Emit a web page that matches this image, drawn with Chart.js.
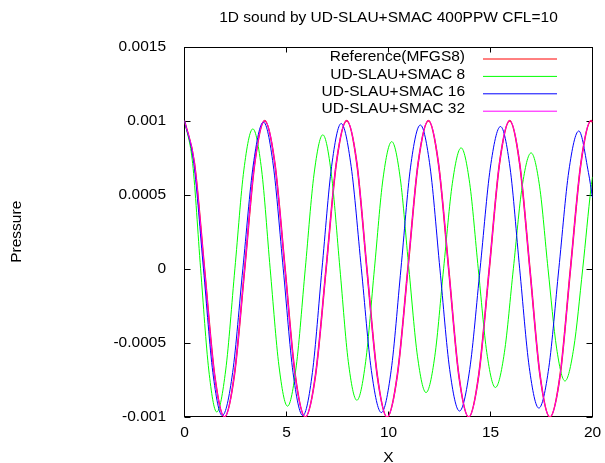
<!DOCTYPE html>
<html>
<head>
<meta charset="utf-8">
<title>1D sound by UD-SLAU+SMAC 400PPW CFL=10</title>
<script src="https://cdn.jsdelivr.net/npm/chart.js@4/dist/chart.umd.min.js"></script>
<style>
  body { margin: 0; background: #fff; }
  canvas { display: block; }
</style>
</head>
<body>
<canvas id="grafico" width="605" height="463"></canvas>
<script>
// Solución de referencia (MFGS8)
const refX = [0, 0.49, 0.98, 1.47, 1.96, 2.45, 2.95, 3.44, 3.93, 4.43, 4.93, 5.42, 5.92, 6.43, 6.94, 7.44, 7.95, 8.45, 8.94, 9.44, 9.93, 10.44, 10.95, 11.45, 11.96, 12.45, 12.95, 13.44, 13.93, 14.43, 14.94, 15.44, 15.94, 16.43, 16.93, 17.42, 17.91, 18.42, 18.92, 19.43, 19.93, 20];
const refY = [0.001, 0.00071, 0, -0.00071, -0.001, -0.00071, 0, 0.00071,
  0.001, 0.00071, 0, -0.00071, -0.001, -0.00071, 0, 0.00071,
  0.001, 0.00071, 0, -0.00071, -0.001, -0.00071, 0, 0.00071,
  0.001, 0.00071, 0, -0.00071, -0.001, -0.00071, 0, 0.00071,
  0.001, 0.00071, 0, -0.00071, -0.001, -0.00071, 0, 0.00071,
  0.001, 0.00099];

// UD-SLAU+SMAC con 8 puntos
const smac8X = [0, 0.40, 0.79, 1.19, 1.58, 2.02, 2.47, 2.91, 3.35, 3.78, 4.20, 4.63, 5.05, 5.48, 5.92, 6.35, 6.78, 7.20, 7.62, 8.03, 8.45, 8.88, 9.31, 9.73, 10.16, 10.58, 11.00, 11.42, 11.84, 12.27, 12.70, 13.13, 13.56, 13.98, 14.40, 14.82, 15.24, 15.68, 16.12, 16.55, 16.99, 17.41, 17.82, 18.24, 18.65, 19.08, 19.52, 19.93, 20];
const smac8Y = [0.001, 0.00071, 0, -0.000683, -0.000966, -0.000683, 0, 0.000667,
  0.000944, 0.000667, 0, -0.000655, -0.000927, -0.000655, 0, 0.000639,
  0.000904, 0.000639, 0, -0.000627, -0.000887, -0.000627, 0, 0.000607,
  0.000858, 0.000607, 0, -0.00059, -0.000835, -0.00059, 0, 0.000577,
  0.000816, 0.000577, 0, -0.000566, -0.000801, -0.000566, 0, 0.000553,
  0.000782, 0.000553, 0, -0.000535, -0.000757, -0.000535, 0, 0.00055,
  0.00062];

// UD-SLAU+SMAC con 16 puntos
const smac16X = [0, 0.46, 0.93, 1.39, 1.85, 2.36, 2.86, 3.37, 3.87, 4.35, 4.84, 5.32, 5.80, 6.27, 6.74, 7.21, 7.68, 8.17, 8.67, 9.16, 9.65, 10.13, 10.61, 11.08, 11.56, 12.04, 12.52, 13.00, 13.48, 13.98, 14.49, 14.99, 15.49, 15.96, 16.43, 16.90, 17.37, 17.86, 18.35, 18.84, 19.33, 19.80, 20];
const smac16Y = [0.001, 0.00071, 0, -0.0007, -0.00099, -0.0007, 0, 0.0007,
  0.00099, 0.0007, 0, -0.0007, -0.00099, -0.0007, 0, 0.00069,
  0.00098, 0.00069, 0, -0.000686, -0.00097, -0.000686, 0, 0.000686,
  0.00097, 0.000686, 0, -0.00068, -0.00096, -0.00068, 0, 0.00068,
  0.00096, 0.00068, 0, -0.000665, -0.00094, -0.000665, 0, 0.00066,
  0.00093, 0.00065, 0.00048];

// UD-SLAU+SMAC con 32 puntos (prácticamente igual a la referencia)
const smac32X = [0, 0.49, 0.98, 1.47, 1.96, 2.45, 2.95, 3.44, 3.93, 4.43, 4.93, 5.42, 5.92, 6.43, 6.94, 7.44, 7.95, 8.45, 8.94, 9.44, 9.93, 10.44, 10.95, 11.45, 11.96, 12.45, 12.95, 13.44, 13.93, 14.43, 14.94, 15.44, 15.94, 16.43, 16.93, 17.42, 17.91, 18.42, 18.92, 19.43, 19.93, 20];
const smac32Y = [0.001, 0.00071, 0, -0.00071, -0.001, -0.00071, 0, 0.00071,
  0.001, 0.00071, 0, -0.00071, -0.001, -0.00071, 0, 0.00071,
  0.001, 0.00071, 0, -0.00071, -0.001, -0.00071, 0, 0.00071,
  0.001, 0.00071, 0, -0.00071, -0.001, -0.00071, 0, 0.00071,
  0.001, 0.00071, 0, -0.00071, -0.001, -0.00071, 0, 0.00071,
  0.001, 0.00099];

// Marcas de los ejes
const ticksX = [0, 5, 10, 15, 20];
const ticksY = [-0.001, -0.0005, 0, 0.0005, 0.001, 0.0015];
const etiquetasY = ['-0.001', '-0.0005', '0', '0.0005', '0.001', '0.0015'];

const fuente = "'Liberation Sans', Arial, Helvetica, sans-serif";
Chart.defaults.font.family = fuente;
Chart.defaults.font.size = 15.5;
Chart.defaults.color = '#000';

// Convierte dos listas en puntos {x, y}
function puntos(xs, ys) {
  return xs.map((x, i) => ({ x: x, y: ys[i] }));
}

function serie(label, xs, ys, color, ancho, orden) {
  return {
    label: label,
    data: puntos(xs, ys),
    borderColor: color,
    backgroundColor: color,
    borderWidth: ancho,
    pointRadius: 0,
    fill: false,
    cubicInterpolationMode: 'monotone',
    order: orden
  };
}

// Marco cerrado con marcas hacia dentro (estilo gnuplot)
const marco = {
  id: 'marco',
  beforeDatasetsDraw(chart) {
    const { ctx, chartArea: a, scales } = chart;
    const izq = Math.round(a.left) - 0.5, der = Math.round(a.right) - 0.5;
    const arr = Math.round(a.top) + 0.5, abj = Math.round(a.bottom) - 0.5;
    ctx.save();
    ctx.strokeStyle = '#000';
    ctx.lineWidth = 1;
    ctx.strokeRect(izq, arr, der - izq, abj - arr);
    ctx.beginPath();
    ticksX.forEach(v => {
      const px = Math.round(scales.x.getPixelForValue(v)) - 0.5;
      ctx.moveTo(px, abj); ctx.lineTo(px, abj - 5);
      ctx.moveTo(px, arr); ctx.lineTo(px, arr + 5);
    });
    ticksY.forEach(v => {
      const py = Math.round(scales.y.getPixelForValue(v)) + 0.5;
      ctx.moveTo(izq, py); ctx.lineTo(izq + 6, py);
      ctx.moveTo(der, py); ctx.lineTo(der - 6, py);
    });
    ctx.stroke();
    ctx.restore();
  }
};

// Leyenda: texto alineado a la derecha y muestra de línea a su lado
const leyenda = {
  id: 'leyenda',
  afterDatasetsDraw(chart) {
    const ctx = chart.ctx;
    ctx.save();
    ctx.font = '15.5px ' + fuente;
    ctx.fillStyle = '#000';
    ctx.textAlign = 'right';
    ctx.textBaseline = 'middle';
    chart.data.datasets.forEach((ds, i) => {
      const y = 57 + 17.4 * i;
      ctx.fillText(ds.label, 465, y);
      ctx.strokeStyle = ds.borderColor;
      ctx.lineWidth = 1;
      ctx.beginPath();
      ctx.moveTo(483, y + 2);
      ctx.lineTo(557, y + 2);
      ctx.stroke();
    });
    ctx.restore();
  }
};

const ctx = document.getElementById('grafico').getContext('2d');

new Chart(ctx, {
  type: 'line',
  data: {
    datasets: [
      serie('Reference(MFGS8)', refX, refY, '#ff0000', 1.6, 4),
      serie('UD-SLAU+SMAC 8', smac8X, smac8Y, '#00ff00', 1, 3),
      serie('UD-SLAU+SMAC 16', smac16X, smac16Y, '#0000ff', 1, 2),
      serie('UD-SLAU+SMAC 32', smac32X, smac32Y, '#ff00ff', 1, 1)
    ]
  },
  options: {
    responsive: false,
    animation: false,
    devicePixelRatio: 1,
    layout: { padding: { top: 0, right: 12.5, bottom: 0, left: 0 } },
    plugins: {
      legend: { display: false },
      tooltip: { enabled: false },
      title: {
        display: true,
        text: '1D sound by UD-SLAU+SMAC 400PPW CFL=10',
        fullSize: false,
        font: { size: 15.5, weight: 'normal' },
        padding: { top: 8.2, bottom: 19.7 }
      }
    },
    scales: {
      x: {
        type: 'linear',
        min: 0,
        max: 20,
        grid: { display: false, drawTicks: false },
        border: { display: false },
        afterBuildTicks: s => { s.ticks = ticksX.map(v => ({ value: v })); },
        afterFit: s => {
          s.height = 46;
          s.paddingLeft = 0;
          s.paddingRight = 0;
        },
        ticks: { padding: 6.5, maxRotation: 0 },
        title: {
          display: true,
          text: 'X',
          font: { size: 15.5, lineHeight: 0.7 },
          padding: 0
        }
      },
      y: {
        type: 'linear',
        min: -0.001,
        max: 0.0015,
        grid: { display: false, drawTicks: false },
        border: { display: false },
        afterBuildTicks: s => { s.ticks = ticksY.map(v => ({ value: v })); },
        afterFit: s => {
          s.width = 184.5;
          s.paddingTop = 0;
          s.paddingBottom = 0;
        },
        ticks: {
          padding: 18.5,
          callback: (valor, i) => etiquetasY[i]
        },
        title: {
          display: true,
          text: 'Pressure',
          font: { size: 15.5 },
          padding: { top: 7.7, bottom: 0 }
        }
      }
    }
  },
  plugins: [marco, leyenda]
});
</script>
</body>
</html>
